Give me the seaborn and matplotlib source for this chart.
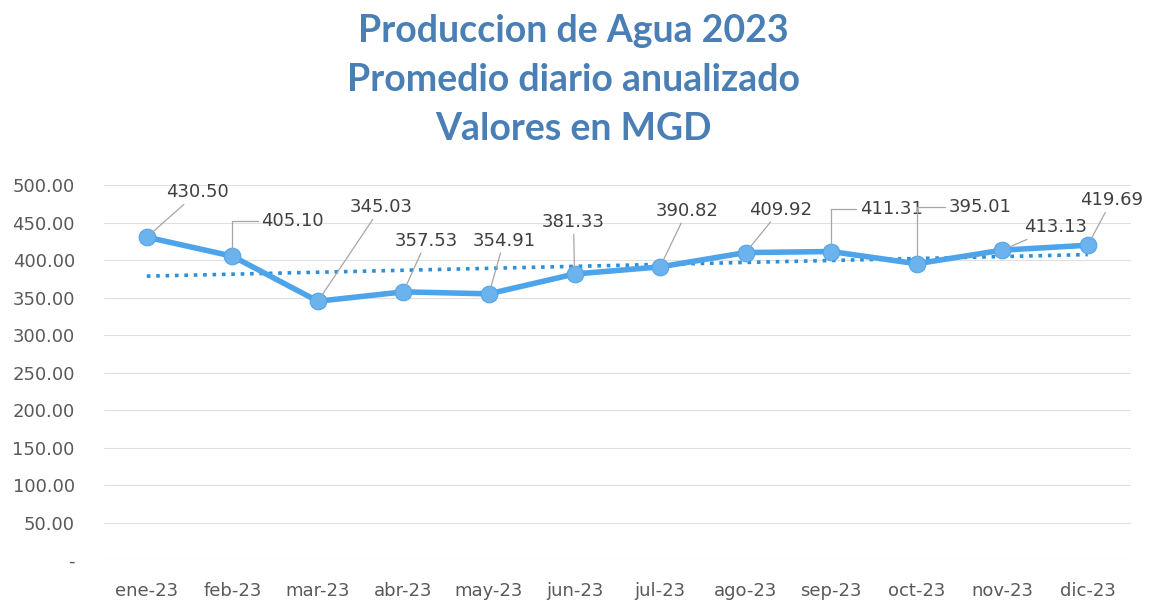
import numpy as np
import pandas as pd
import matplotlib
matplotlib.use('Agg')
import matplotlib.pyplot as plt
import seaborn as sns

meses = ['ene-23', 'feb-23', 'mar-23', 'abr-23', 'may-23', 'jun-23',
         'jul-23', 'ago-23', 'sep-23', 'oct-23', 'nov-23', 'dic-23']
produccion = [430.50, 405.10, 345.03, 357.53, 354.91, 381.33,
              390.82, 409.92, 411.31, 395.01, 413.13, 419.69]
yticks = [0, 50, 100, 150, 200, 250, 300, 350, 400, 450, 500]

# label offsets (pixels) and leader style
label_off = [(51, 45), (60, 35), (63, 94), (23, 51), (15, 53), (-1, 52),
             (27, 56), (35, 43), (60, 43), (63, 57), (53, 23), (24, 45)]
elbow = [False, True, False, False, False, False,
         False, False, True, True, False, False]

df = pd.DataFrame({'mes': meses, 'mgd': produccion})
df['x'] = np.arange(len(df))

sns.set_style('white')
plt.rcParams['font.family'] = ['DejaVu Sans']

fig = plt.figure(figsize=(11.56, 6.06), dpi=100)
ax = fig.add_axes([0.09, 0.0759, 0.888, 0.6188])

for y in yticks:
    ax.axhline(y, color='#e0e0e0', lw=0.8, zorder=0)

# linear trend
coef = np.polyfit(df['x'], df['mgd'], 1)
ax.plot(df['x'], np.polyval(coef, df['x']), color='#2b8fd9', lw=2.6,
        linestyle=(0, (1, 1.6)), zorder=1)

sns.lineplot(data=df, x='x', y='mgd', ax=ax, color='#4ea4ea', lw=4,
             marker='o', markersize=12, markeredgecolor='#4ea4ea',
             markerfacecolor='#6cb2ec', zorder=3)

for i, row in df.iterrows():
    dx, dy = label_off[i]
    if elbow[i]:
        cs = 'angle,angleA=0,angleB=90,rad=0'
    else:
        cs = 'arc3'
    ax.annotate(f"{row['mgd']:.2f}", xy=(row['x'], row['mgd']),
                xytext=(dx, dy), textcoords='offset pixels',
                ha='center', va='center', fontsize=13, color='#404040',
                arrowprops=dict(arrowstyle='-', color='#a6a6a6', lw=0.9,
                                connectionstyle=cs, shrinkA=0, shrinkB=5))

ax.set_xlim(-0.5, 11.5)
ax.set_ylim(0, 500)
ax.set_xticks(df['x'])
ax.set_xticklabels(meses)
ax.set_yticks(yticks)
ax.set_yticklabels(['-' if v == 0 else f'{v:,.2f}' for v in yticks])
ax.tick_params(axis='both', labelsize=13, colors='#595959', length=0)
ax.tick_params(axis='y', pad=21)
ax.tick_params(axis='x', pad=16)
ax.set_xlabel('')
ax.set_ylabel('')
sns.despine(ax=ax, left=True, bottom=True)

fig.text(0.496, 0.868, 'Produccion de Agua 2023\nPromedio diario anualizado\nValores en MGD',
         ha='center', va='center', fontsize=27, fontweight='bold',
         color='#4a7fb5', family=['Lato', 'DejaVu Sans'], linespacing=1.55)

fig.savefig('out.png', dpi=100, facecolor='white')
